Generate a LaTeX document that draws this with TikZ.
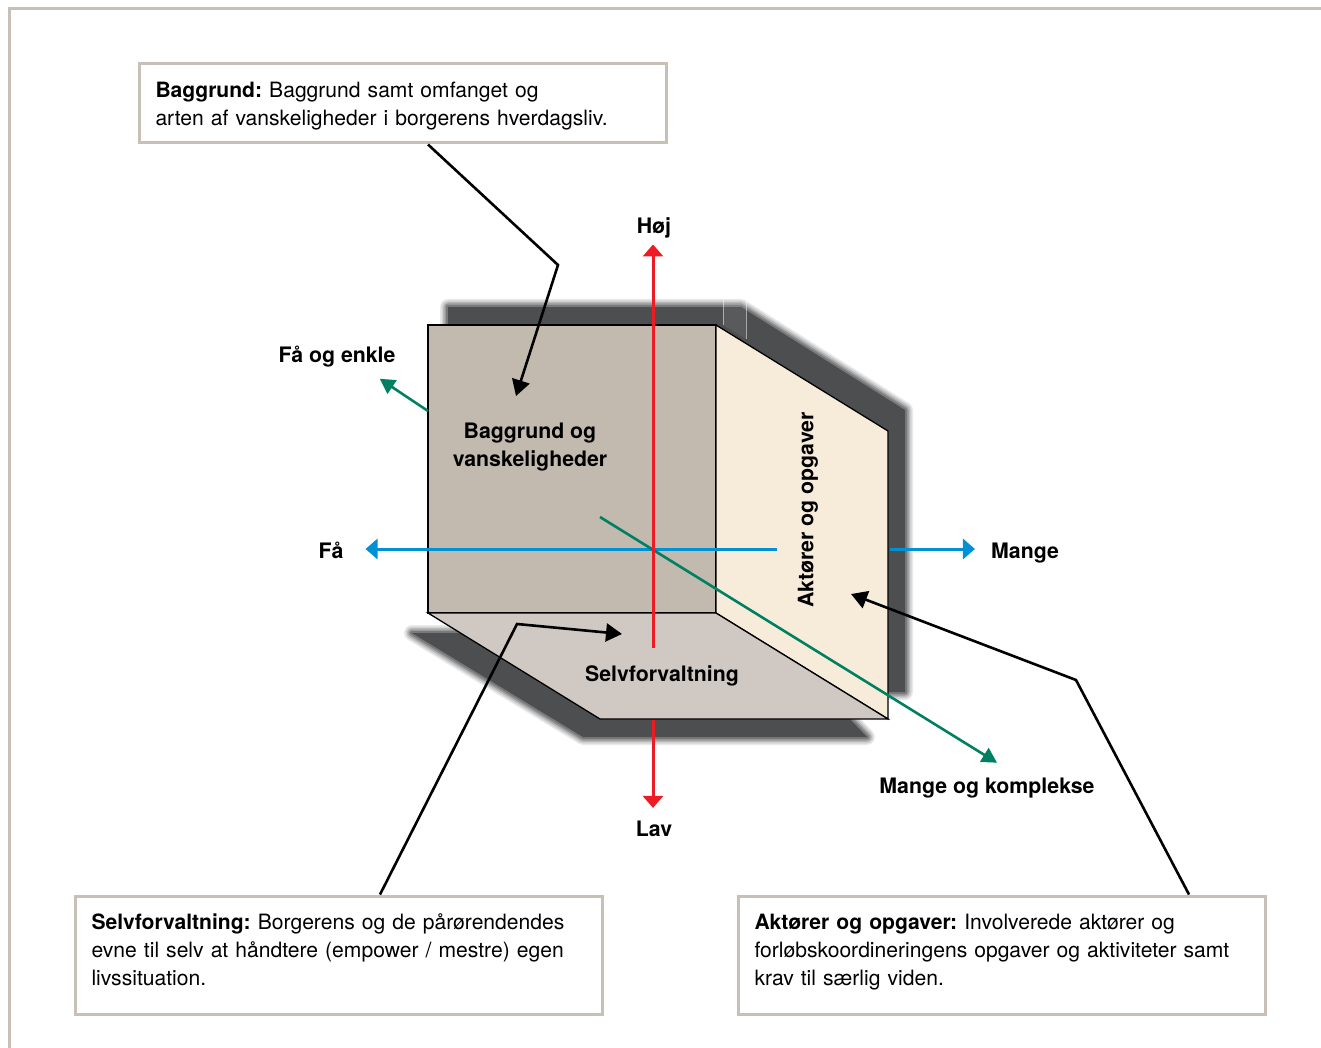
\documentclass[tikz,border=0pt]{standalone}
\usepackage{fontspec}
\setmainfont{TeX Gyre Heros}
\usetikzlibrary{arrows.meta, positioning}

\definecolor{framegray}{HTML}{C8BFB6}
\definecolor{shadowgray}{HTML}{4D4E50}
\definecolor{frontface}{HTML}{C2B9AF}
\definecolor{sideface}{HTML}{F7ECD9}
\definecolor{bottomface}{HTML}{CFC8C3}
\definecolor{axisred}{HTML}{ED1C24}
\definecolor{axisblue}{HTML}{0090D4}
\definecolor{axisgreen}{HTML}{008060}

\begin{document}
\frenchspacing
\begin{tikzpicture}[
    x=1pt, y=-1pt,
    node distance=133pt,
    infobox/.style={rectangle, draw=framegray, line width=3pt, fill=white, minimum width=527pt, text width=494pt, inner xsep=16pt, align=left, font=\fontsize{21.1}{28}\selectfont},
    facelabel/.style={align=center, font=\fontsize{21.3}{28}\selectfont\bfseries},
    axislabel/.style={inner sep=0pt, font=\fontsize{21.3}{28}\selectfont\bfseries},
    face/.style={draw=black, line width=1.3pt, line join=miter},
    callout/.style={-{Triangle[length=16pt,width=18pt]}, line width=2.6pt, line join=miter},
    axis/.style={-{Triangle[length=12pt,width=20pt]}, line width=3pt},
    diagaxis/.style={-{Triangle[length=15pt,width=16pt]}, line width=2.6pt}
]
    \useasboundingbox (0,0) rectangle (1321,1048);

    % Outer frame
    \draw[framegray, line width=3pt] (1321,9) -- (9,9) -- (9,1048);

    % Blurred shadow behind the box
    \foreach \blur/\alpha in {16/0.12, 13/0.15, 10/0.2, 7/0.3, 4/0.4} {
        \draw[shadowgray, line width=\blur pt, opacity=\alpha, line join=round]
            (448,307) -- (741,307) -- (905,410) -- (905,692) -- (880,692) -- (448,400) -- cycle;
        \draw[shadowgray, line width=\blur pt, opacity=\alpha, line join=round]
            (412,633) -- (470,633) -- (846,715) -- (867,737) -- (583,737) -- cycle;
    }
    \fill[shadowgray] (448,307) -- (741,307) -- (905,410) -- (905,692) -- (880,692) -- (448,400) -- cycle;
    \fill[shadowgray] (412,633) -- (470,633) -- (846,715) -- (867,737) -- (583,737) -- cycle;

    % Light streaks in the shadow
    \fill[white, opacity=0.07] (723,303) -- (746,303) -- (746,339) -- (723,325) -- cycle;
    \draw[white, opacity=0.5, line width=0.8pt] (723,300) -- (723,325);
    \draw[white, opacity=0.5, line width=0.8pt] (746,300) -- (746,339);

    % Box faces
    \draw[face, fill=frontface] (428,325) -- (716,325) -- (716,613) -- (428,613) -- cycle;
    \draw[face, fill=sideface] (716,325) -- (888,431) -- (888,719) -- (716,613) -- cycle;
    \draw[face, fill=bottomface] (428,613) -- (716,613) -- (888,719) -- (600,719) -- cycle;

    % Axis labels
    \node[axislabel] (hoj) at (654,228) {Høj};
    \node[axislabel] (lav) at (654,829) {Lav};
    \node[axislabel] (faa) at (331,550) {Få};
    \node[axislabel] (mange) at (1025,553) {Mange};
    \node[axislabel] (faaenkle) at (337,357) {Få og enkle};
    \node[axislabel] (komplekse) at (987,788) {Mange og komplekse};

    % Free ends of the axes
    \coordinate (redin) at (653,648);
    \coordinate (redout) at (653,720);
    \coordinate (bluein) at (777,549);
    \coordinate (blueout) at (890,549);
    \coordinate (greenin) at (600,517);
    \coordinate (greenout) at (428,411);

    % Axes
    \draw[axis, axisblue] (bluein) -- ([xshift=22pt]faa.east |- bluein);
    \draw[axis, axisblue] (blueout) -- ([xshift=-16pt]mange.west |- blueout);
    \draw[diagaxis, axisgreen] (greenin) -- ([xshift=10pt, yshift=15pt]komplekse.north);
    \draw[diagaxis, axisgreen] (greenout) -- ([xshift=-16pt, yshift=-11pt]faaenkle.south east);
    \draw[axis, axisred] (redin) -- ([yshift=-6pt]hoj.south -| redin);
    \draw[axis, axisred] (redout) -- ([yshift=13pt]lav.north -| redout);

    % Face labels
    \node[facelabel] (baggrund) at (530,447) {Baggrund og\\vanskeligheder};
    \node[facelabel, rotate=90] (aktoerer) at (808,510) {Aktører og opgaver};
    \node[facelabel] (selv) at (662,676) {Selvforvaltning};

    % Text boxes
    \node[infobox, minimum height=79pt] (bgbox) at (402.5,103.5) {\rule{0pt}{21pt}\textbf{Baggrund:} Baggrund samt omfanget og\\arten af vanskeligheder i borgerens hverdagsliv.};
    \node[infobox, minimum height=118pt] (selvbox) at (338.5,955) {\textbf{Selvforvaltning:} Borgerens og de pårørendendes\\evne til selv at håndtere (empower / mestre) egen\\livssituation.\rule[-11pt]{0pt}{1pt}};
    \node[infobox, minimum height=118pt, right=of selvbox] (aktbox) {\textbf{Aktører og opgaver:} Involverede aktører og\\forløbskoordineringens opgaver og aktiviteter samt\\krav til særlig viden.\rule[-11pt]{0pt}{1pt}};

    % Bends and tips of the callouts
    \coordinate (bgbend) at (558,265);
    \coordinate (bgtip) at (516,396);
    \coordinate (selvbend) at (517,624);
    \coordinate (selvtip) at (622,634);
    \coordinate (aktbend) at (1076,680);
    \coordinate (akttip) at (851,594);

    % Callouts
    \draw[callout] ([xshift=25.5pt]bgbox.south) -- (bgbend) -- (bgtip);
    \draw[callout] ([xshift=41.5pt]selvbox.north) -- (selvbend) -- (selvtip);
    \draw[callout] ([xshift=187.5pt]aktbox.north) -- (aktbend) -- (akttip);
\end{tikzpicture}
\end{document}
